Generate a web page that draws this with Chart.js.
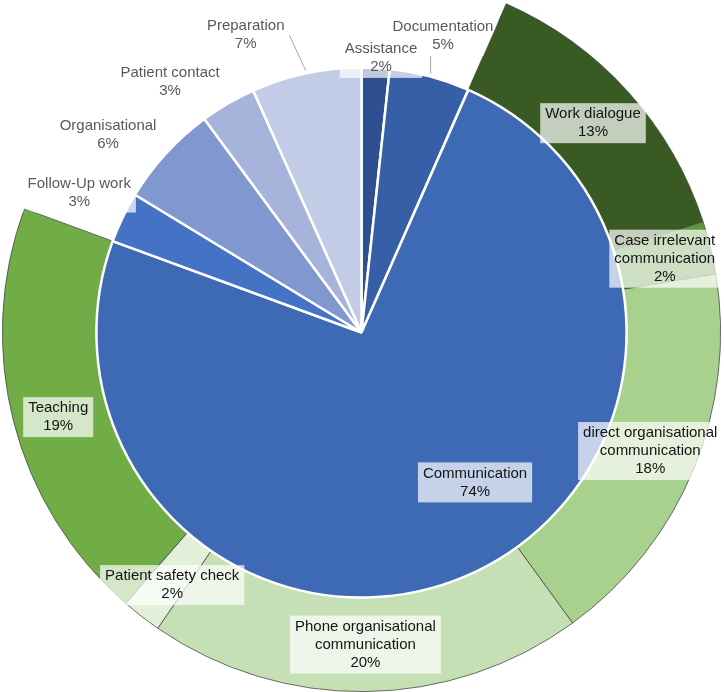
<!DOCTYPE html>
<html>
<head>
<meta charset="utf-8">
<title>Communication breakdown</title>
<script src="https://cdn.jsdelivr.net/npm/chart.js@4.4.1/dist/chart.umd.min.js"></script>
<style>
    html, body { margin: 0; padding: 0; background: #fff; overflow: hidden; }
    #frame { position: relative; width: 724px; height: 692px; overflow: hidden; }
    /* the outer ring is taller than the page, the top gets cut like in the original */
    #holder { position: absolute; left: 0; top: -27px; width: 724px; height: 719px; }
</style>
</head>
<body>
<div id="frame"><div id="holder"><canvas id="pieChart"></canvas></div></div>
<script>
// inner pie - activity categories (% of time)
const activityLabels = ['Assistance', 'Documentation', 'Communication', 'Follow-Up work', 'Organisational', 'Patient contact', 'Preparation'];
const activityValues = [1.7, 4.9, 74.0, 3.1, 6.2, 3.4, 6.7];
const activityColors = ['#2e5090', '#375fa7', '#3e69b4', '#4472c4', '#8097cf', '#a6b4db', '#c3cce6'];

// outer ring - what the Communication slice is made of
const commLabels = [['Work dialogue'], ['Case irrelevant', 'communication'], ['direct organisational', 'communication'], ['Phone organisational', 'communication'], ['Patient safety check'], ['Teaching']];
const commValues = [13.4, 2.4, 17.6, 19.6, 1.8, 19.2];
const commColors = ['#3a5a23', '#5a963b', '#a9d18e', '#c5e0b4', '#e2f0d9', '#70ad47'];

// labels that were dragged by hand in the original (px from default spot)
const labelNudge = {
    'Assistance': { dx: 4, dy: 15 },
    'Documentation': { dx: 4, dy: -6, leader: true },
    'Preparation': { dx: -54, dy: -8, leader: true },
    'Patient contact': { dx: -35, dy: 18 },
    'Organisational': { dx: -19, dy: 17 },
    'Follow-Up work': { dx: 10, dy: 1 },
    'Communication': { dx: 43, dy: -16 },
    'Teaching': { dx: -1, dy: 7 },
    'Patient safety check': { dx: 2, dy: 6 }
};

const COMM_IDX = activityLabels.indexOf('Communication');
const LINE = 18;

// ring starts where Communication starts and covers the same sweep
const total = activityValues.reduce((a, b) => a + b, 0);
const before = activityValues.slice(0, COMM_IDX).reduce((a, b) => a + b, 0);
const ringRotation = before / total * 360;
const ringSweep = commValues.reduce((a, b) => a + b, 0) / total * 360;

function layoutLabels(ctx, chart, di) {
    const ds = chart.data.datasets[di];
    const meta = chart.getDatasetMeta(di);
    return meta.data.map((arc, i) => {
        const p = arc.getProps(['x', 'y', 'startAngle', 'endAngle', 'innerRadius', 'outerRadius'], true);
        const name = [].concat(ds.names[i]);
        const lines = name.concat(Math.round(ds.data[i]) + '%');
        const w = Math.max(...lines.map(t => ctx.measureText(t).width));
        const h = lines.length * LINE;
        const mid = (p.startAngle + p.endAngle) / 2;
        const cos = Math.cos(mid), sin = Math.sin(mid);

        let r, outside = false;
        if (ds.ring) {
            r = (p.innerRadius + p.outerRadius) / 2;
        } else if (ds.data[i] > 50) {
            r = p.outerRadius * 0.68;
        } else {
            outside = true;
            r = p.outerRadius + 5 + Math.abs(cos) * w / 2 + Math.abs(sin) * h / 2;
        }
        const nudge = labelNudge[name.join(' ')] || { dx: 0, dy: 0 };
        const cx = p.x + cos * r + nudge.dx;
        const cy = p.y + sin * r + nudge.dy;
        const lab = { p, cos, sin, lines, w, h, cx, cy, outside, leader: nudge.leader };
        lab.bx = cx - w / 2 - 5; lab.by = cy - h / 2 - 2; lab.bw = w + 10; lab.bh = h + 4;
        return lab;
    });
}

function paintLabels(ctx, labs) {
    // boxes first so no box hides a neighbour's text
    ctx.fillStyle = 'rgba(255,255,255,0.7)';
    labs.forEach(l => ctx.fillRect(l.bx, l.by, l.bw, l.bh));

    ctx.strokeStyle = '#a6a6a6';
    ctx.lineWidth = 1;
    labs.filter(l => l.leader).forEach(l => {
        const ax = l.p.x + l.cos * (l.p.outerRadius + 3);
        const ay = l.p.y + l.sin * (l.p.outerRadius + 3);
        let ex, ey;
        if (ax >= l.bx && ax <= l.bx + l.bw) {
            ex = ax;
            ey = ay > l.cy ? l.by + l.bh : l.by;
        } else {
            ex = ax < l.bx ? l.bx : l.bx + l.bw;
            ey = l.cy;
        }
        ctx.beginPath();
        ctx.moveTo(ax, ay);
        ctx.lineTo(ex, ey);
        ctx.stroke();
    });

    labs.forEach(l => {
        ctx.fillStyle = l.outside ? '#595959' : '#141414';
        l.lines.forEach((t, k) => ctx.fillText(t, l.cx, l.cy - l.h / 2 + LINE * (k + 0.5)));
    });
}

const sliceLabels = {
    id: 'sliceLabels',
    afterDatasetsDraw: function(chart) {
        const ctx = chart.ctx;
        ctx.save();
        ctx.font = '15px "Liberation Sans", Arial, sans-serif';
        ctx.textAlign = 'center';
        ctx.textBaseline = 'middle';

        const ringIdx = chart.data.datasets.findIndex(d => d.ring);
        const pieIdx = chart.data.datasets.findIndex(d => !d.ring);

        // pie labels sit under the ring: clip the ring sector out
        const ring = chart.getDatasetMeta(ringIdx).data;
        const first = ring[0], last = ring[ring.length - 1];
        ctx.save();
        ctx.beginPath();
        ctx.rect(0, 0, chart.width, chart.height);
        ctx.moveTo(first.x + Math.cos(first.startAngle) * first.innerRadius, first.y + Math.sin(first.startAngle) * first.innerRadius);
        ctx.arc(first.x, first.y, first.outerRadius, first.startAngle, last.endAngle);
        ctx.arc(first.x, first.y, first.innerRadius, last.endAngle, first.startAngle, true);
        ctx.closePath();
        ctx.clip('evenodd');
        paintLabels(ctx, layoutLabels(ctx, chart, pieIdx));
        ctx.restore();

        paintLabels(ctx, layoutLabels(ctx, chart, ringIdx));
        ctx.restore();
    }
};

new Chart(document.getElementById('pieChart'), {
    type: 'pie',
    data: {
        labels: activityLabels,
        datasets: [
            {
                ring: true,
                names: commLabels,
                data: commValues,
                backgroundColor: commColors,
                borderColor: '#404040',
                borderWidth: 0.75,
                rotation: ringRotation,
                circumference: ringSweep,
                weight: 94,
                order: 1
            },
            {
                names: activityLabels,
                data: activityValues,
                backgroundColor: activityColors,
                borderColor: '#ffffff',
                borderWidth: 2.5,
                weight: 265,
                order: 0
            }
        ]
    },
    options: {
        responsive: true,
        maintainAspectRatio: false,
        animation: false,
        layout: { padding: { left: 2, right: 3, top: 0, bottom: 0 } },
        plugins: { legend: { display: false }, tooltip: { enabled: false } }
    },
    plugins: [sliceLabels]
});
</script>
</body>
</html>
